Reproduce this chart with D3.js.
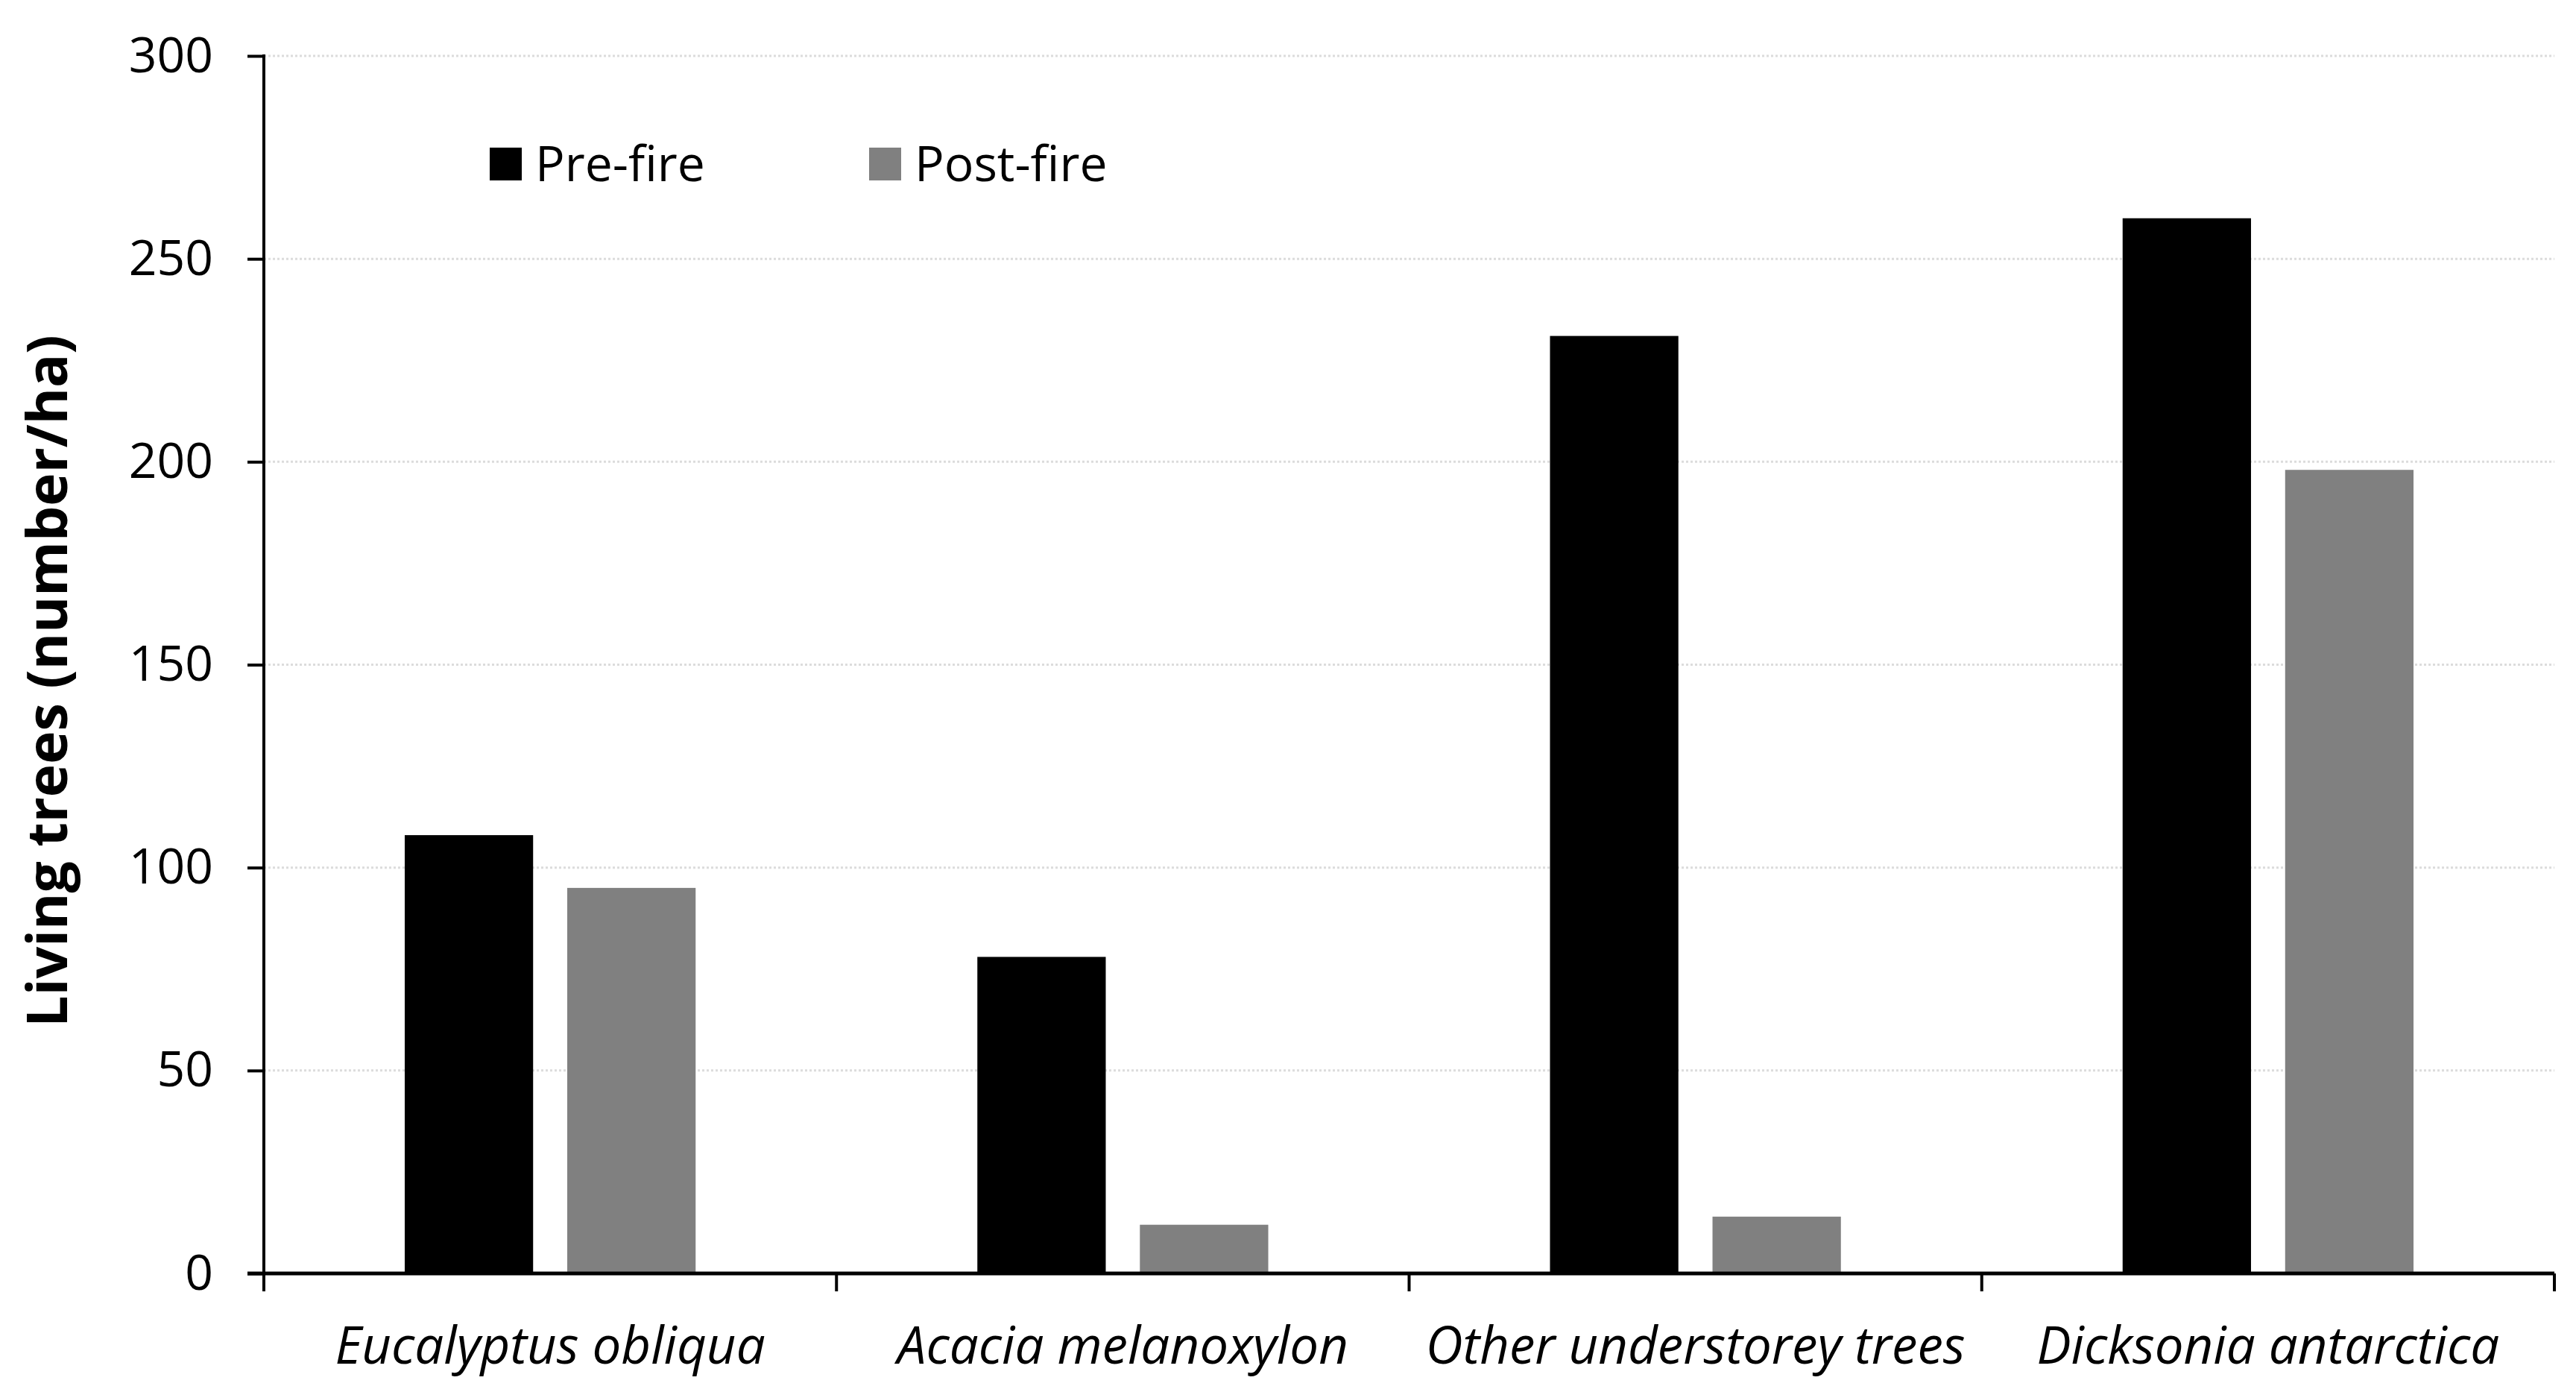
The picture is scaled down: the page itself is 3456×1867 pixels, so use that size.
<!DOCTYPE html>
<html>
<head>
<meta charset="utf-8">
<script src="https://cdn.jsdelivr.net/npm/d3@7"></script>
<style>
  body { margin: 0; background: #fff; }
  text { font-family: "Open Sans", sans-serif; fill: #000; }
</style>
</head>
<body>
<div id="chart"></div>
<script>
var categories = ["Eucalyptus obliqua", "Acacia melanoxylon", "Other understorey trees", "Dicksonia antarctica"];
var seriesNames = ["Pre-fire", "Post-fire"];
var seriesColors = ["#000000", "#808080"];
var preFire = [108, 78, 231, 260];
var postFire = [95, 12, 14, 198];
var yTicks = [0, 50, 100, 150, 200, 250, 300];

var width = 3456, height = 1867;
var margin = {left: 354, right: 29, top: 75, bottom: 159};

var svg = d3.select('#chart')
  .append('svg')
  .attr('width', width)
  .attr('height', height);

var x = d3.scaleBand()
  .domain(categories)
  .range([margin.left, width - margin.right]);

// two bars per group, each ~22% of the band, gap in between
var inner = d3.scaleBand()
  .domain(seriesNames)
  .range([0, x.bandwidth() * 0.508])
  .paddingInner(0.21);

var y = d3.scaleLinear()
  .domain([0, 300])
  .range([height - margin.bottom, margin.top]);

// gridlines
svg.append('g')
  .selectAll('line')
  .data(yTicks.filter(function (d) { return d > 0; }))
  .enter().append('line')
  .attr('x1', margin.left)
  .attr('x2', width - margin.right)
  .attr('y1', function (d) { return y(d); })
  .attr('y2', function (d) { return y(d); })
  .attr('stroke', '#dcdcdc')
  .attr('stroke-width', 3)
  .attr('stroke-dasharray', '3,3');

// bars
var rows = categories.map(function (c, i) {
  return {cat: c, values: [preFire[i], postFire[i]]};
});
var groupOffset = (x.bandwidth() - inner.range()[1]) / 2;

var groups = svg.append('g')
  .selectAll('g')
  .data(rows)
  .enter().append('g')
  .attr('transform', function (d) { return 'translate(' + (x(d.cat) + groupOffset) + ',0)'; });

groups.selectAll('rect')
  .data(function (d) { return d.values.map(function (v, j) { return {name: seriesNames[j], value: v, color: seriesColors[j]}; }); })
  .enter().append('rect')
  .attr('x', function (d) { return inner(d.name); })
  .attr('width', inner.bandwidth())
  .attr('y', function (d) { return y(d.value); })
  .attr('height', function (d) { return y(0) - y(d.value); })
  .attr('fill', function (d) { return d.color; });

// y axis
var yAxis = svg.append('g')
  .attr('transform', 'translate(' + margin.left + ',0)')
  .call(d3.axisLeft(y).tickValues(yTicks).tickSize(22).tickPadding(46));
yAxis.select('.domain').remove();
yAxis.selectAll('.tick line').attr('stroke', '#000').attr('stroke-width', 4);
yAxis.selectAll('.tick text')
  .style('font-size', '66px')
  .attr('fill', '#000');
yAxis.append('line')
  .attr('x1', 0).attr('x2', 0)
  .attr('y1', margin.top - 2)
  .attr('y2', y(0) + 24)
  .attr('stroke', '#000')
  .attr('stroke-width', 4);

// x axis
var xAxis = svg.append('g')
  .attr('transform', 'translate(0,' + y(0) + ')');
xAxis.append('line')
  .attr('x1', margin.left - 22)
  .attr('x2', width - margin.right)
  .attr('stroke', '#000')
  .attr('stroke-width', 5);
xAxis.selectAll('.cat-tick')
  .data(categories.slice(1).concat(['end']))
  .enter().append('line')
  .attr('class', 'cat-tick')
  .attr('x1', function (d) { return d === 'end' ? width - margin.right : x(d); })
  .attr('x2', function (d) { return d === 'end' ? width - margin.right : x(d); })
  .attr('y1', 0)
  .attr('y2', 24)
  .attr('stroke', '#000')
  .attr('stroke-width', 4);
xAxis.selectAll('.cat-label')
  .data(categories)
  .enter().append('text')
  .attr('class', 'cat-label')
  .attr('x', function (d) { return x(d) + x.bandwidth() / 2; })
  .attr('y', 97)
  .attr('dy', '0.35em')
  .attr('text-anchor', 'middle')
  .style('font-size', '69px')
  .style('font-style', 'italic')
  .text(function (d) { return d; });

// y label
svg.append('text')
  .attr('transform', 'translate(64,' + ((margin.top + y(0)) / 2 + 22) + ') rotate(-90)')
  .attr('text-anchor', 'middle')
  .attr('dy', '0.35em')
  .style('font-size', '75px')
  .style('font-weight', 'bold')
  .text('Living trees (number/ha)');

// legend
var legendX = [657, 1166];
var legend = svg.append('g')
  .selectAll('g')
  .data(seriesNames)
  .enter().append('g')
  .attr('transform', function (d, i) { return 'translate(' + legendX[i] + ',220)'; });
legend.append('rect')
  .attr('x', 0).attr('y', -22)
  .attr('width', 43).attr('height', 44)
  .attr('fill', function (d, i) { return seriesColors[i]; });
legend.append('text')
  .attr('x', 61)
  .attr('dy', '0.35em')
  .style('font-size', '66px')
  .text(function (d) { return d; });
</script>
</body>
</html>
